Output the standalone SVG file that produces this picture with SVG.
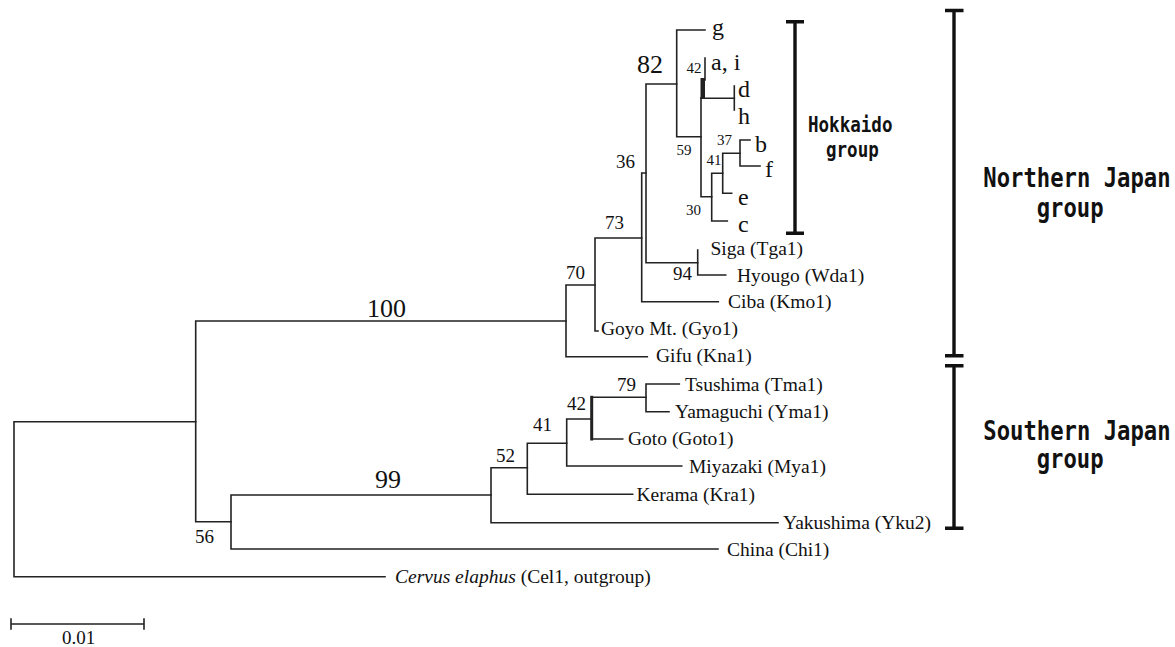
<svg xmlns="http://www.w3.org/2000/svg" width="1175" height="647" viewBox="0 0 1175 647">
  <style>
    .br { fill: none; stroke: #222; stroke-width: 1.6; stroke-linecap: square; stroke-linejoin: miter; }
    .bk { fill: none; stroke: #111; stroke-width: 3.4; }
    .tx { font-family: "Liberation Serif", "Times New Roman", serif; font-size: 19.5px; fill: #111; }
    .bs { font-family: "Liberation Serif", "Times New Roman", serif; font-size: 19px; fill: #111; }
    .bb { font-family: "Liberation Serif", "Times New Roman", serif; font-size: 26px; fill: #111; }
    .sm { font-family: "Liberation Serif", "Times New Roman", serif; font-size: 15px; fill: #111; }
    .lt { font-family: "Liberation Serif", "Times New Roman", serif; font-size: 24px; fill: #111; }
    .gp { font-family: "DejaVu Sans Mono", "Liberation Mono", monospace; font-weight: bold; fill: #111; }
  </style>
  <rect width="1175" height="647" fill="#fff"/>

  <!-- tree branches -->
  <g id="connectors">
    <path class="br" d="M195.7 421.7 H14 V576.7 H385"/>
    <path class="br" d="M566 321 H195.7 V521.7 H231"/>
    <!-- southern clade -->
    <path class="br" d="M491 495 H231 V549 H718"/>
    <path class="br" d="M527.3 467.7 H491 V522.7 H778"/>
    <path class="br" d="M566.7 443.3 H527.3 V494.3 H632.7"/>
    <path class="br" d="M591.7 419 H566.7 V466 H681.7"/>
    <path class="br" d="M646 397.3 H591.7 V439 H622.7"/>
    <path class="br" d="M591.7 397.3 V439" style="stroke-width:3"/>
    <path class="br" d="M679.3 384 H646 V411.7 H669"/>
    <!-- northern clade -->
    <path class="br" d="M595 285 H566 V356.7 H647.3"/>
    <path class="br" d="M641.7 238 H595 V331 H598"/>
    <path class="br" d="M646 173 H641.7 V301.7 H718.3"/>
    <path class="br" d="M676.7 84 H646 V262.7 H697.7"/>
    <path class="br" d="M697.7 250 V275 H725.7"/>
    <!-- Hokkaido clade -->
    <path class="br" d="M705 30 H676.7 V136.7 H701"/>
    <path class="br" d="M705 58 V80"/>
    <rect x="700.5" y="78" width="4.5" height="20" fill="#222"/>
    <path class="br" d="M701 98 V196.7 H711.7"/>
    <path class="br" d="M701 98.3 H734.3"/>
    <path class="br" d="M734.3 86 V110"/>
    <path class="br" d="M722.7 173.3 H711.7 V221 H727.3"/>
    <path class="br" d="M740 153.3 H722.7 V193.3 H731.7"/>
    <path class="br" d="M750 140 H740 V166 H760"/>
  </g>

  <!-- leaf labels -->
  <g id="leaf-g"><text class="lt" x="712" y="35">g</text></g>
  <g id="leaf-ai"><text class="lt" x="711" y="70">a, i</text></g>
  <g id="leaf-d"><text class="lt" x="738" y="97">d</text></g>
  <g id="leaf-h"><text class="lt" x="738" y="124">h</text></g>
  <g id="leaf-b"><text class="lt" x="755" y="152">b</text></g>
  <g id="leaf-f"><text class="lt" x="765" y="177">f</text></g>
  <g id="leaf-e"><text class="lt" x="738" y="205">e</text></g>
  <g id="leaf-c"><text class="lt" x="738" y="232">c</text></g>
  <g id="leaf-siga"><text class="tx" x="710.5" y="255">Siga (Tga1)</text></g>
  <g id="leaf-hyougo"><text class="tx" x="737" y="281.5">Hyougo (Wda1)</text></g>
  <g id="leaf-ciba"><text class="tx" x="728" y="308">Ciba (Kmo1)</text></g>
  <g id="leaf-goyo"><text class="tx" x="601" y="335">Goyo Mt. (Gyo1)</text></g>
  <g id="leaf-gifu"><text class="tx" x="656" y="362">Gifu (Kna1)</text></g>
  <g id="leaf-tsushima"><text class="tx" x="685" y="390.5">Tsushima (Tma1)</text></g>
  <g id="leaf-yamaguchi"><text class="tx" x="675" y="418">Yamaguchi (Yma1)</text></g>
  <g id="leaf-goto"><text class="tx" x="628" y="445">Goto (Goto1)</text></g>
  <g id="leaf-miyazaki"><text class="tx" x="689" y="472.5">Miyazaki (Mya1)</text></g>
  <g id="leaf-kerama"><text class="tx" x="636.5" y="500.5">Kerama (Kra1)</text></g>
  <g id="leaf-yakushima"><text class="tx" x="783" y="529">Yakushima (Yku2)</text></g>
  <g id="leaf-china"><text class="tx" x="727" y="555.5">China (Chi1)</text></g>
  <g id="leaf-cervus"><text class="tx" x="395" y="583"><tspan font-style="italic">Cervus elaphus</tspan> (Cel1, outgroup)</text></g>

  <!-- bootstrap values -->
  <g id="support">
    <text class="bb" x="367" y="317">100</text>
    <text class="bb" x="375" y="488">99</text>
    <text class="bb" x="637" y="73">82</text>
    <text class="bs" x="195" y="543">56</text>
    <text class="bs" x="566" y="279">70</text>
    <text class="bs" x="605" y="229">73</text>
    <text class="bs" x="616" y="168">36</text>
    <text class="bs" x="673" y="280">94</text>
    <text class="bs" x="496" y="462">52</text>
    <text class="bs" x="533" y="431">41</text>
    <text class="bs" x="567" y="410">42</text>
    <text class="bs" x="617" y="391">79</text>
    <text class="sm" x="686.5" y="72.5">42</text>
    <text class="sm" x="676.5" y="155">59</text>
    <text class="sm" x="717" y="144.5">37</text>
    <text class="sm" x="706.5" y="165">41</text>
    <text class="sm" x="686" y="215">30</text>
  </g>

  <!-- group brackets -->
  <g id="hokkaido-group">
    <path class="bk" d="M795 21.7 V233.3 M786 21.7 H804 M786 233.3 H804"/>
    <text class="gp" font-size="20.4" transform="translate(808 132) scale(0.86 1)">Hokkaido</text>
    <text class="gp" font-size="20.4" transform="translate(826 157) scale(0.86 1)">group</text>
  </g>
  <g id="northern-group">
    <path class="bk" d="M954 10.5 V355.7 M945 10.5 H963.5 M945 355.7 H963.5"/>
    <text class="gp" font-size="26" transform="translate(983.3 187.3) scale(0.855 1)">Northern Japan</text>
    <text class="gp" font-size="26" transform="translate(1036.7 216.7) scale(0.855 1)">group</text>
  </g>
  <g id="southern-group">
    <path class="bk" d="M954 365.7 V528.3 M945 365.7 H963.5 M945 528.3 H963.5"/>
    <text class="gp" font-size="26" transform="translate(983.3 440) scale(0.855 1)">Southern Japan</text>
    <text class="gp" font-size="26" transform="translate(1036.7 468.3) scale(0.855 1)">group</text>
  </g>

  <!-- scale bar -->
  <g id="scale-bar">
    <path class="br" d="M11 624 H144 M11 619 V629 M144 619 V629"/>
    <text class="bs" x="62" y="644">0.01</text>
  </g>
</svg>
